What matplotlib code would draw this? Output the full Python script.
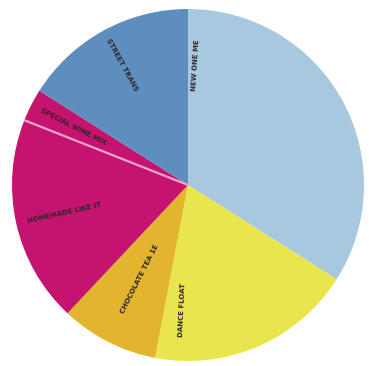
import numpy as np
import matplotlib
matplotlib.use('Agg')
from matplotlib import pyplot as plt

# slices, clockwise from 12 o'clock
# NOTE: the label text in the reference is too blurry to read; these strings are
# placeholders of similar length, not the real labels
labels = ['NEW ONE ME', 'DANCE FLOAT', 'CHOCOLATE TEA 1E', 'HOMEMADE LIKE IT', 'SPECIAL WINE MIX', 'STREET TRANS']
values = [34, 19, 9, 19, 3, 16]
colors = ['#a8c8df', '#e8e64c', '#e3b52e', '#c4146f', '#c4146f', '#5d8ebd']
# where along each wedge the label sits (0 = clockwise start, 1 = end)
label_pos = [0.03, 0.88, 0.5, 0.5, 0.5, 0.5]
label_r = [0.68, 0.71, 0.6, 0.72, 0.73, 0.78]

fig = plt.figure(figsize=(3.69, 3.66), dpi=100)
ax = fig.add_axes([(188 - 176) / 369, (366 - 185 - 176) / 366, 352 / 369, 352 / 366])
wedges, _ = ax.pie(values, colors=colors, startangle=90, counterclock=False, radius=1,
                   wedgeprops=dict(linewidth=0))
ax.set_xlim(-1, 1)
ax.set_ylim(-1, 1)
ax.axis('off')

# pale line between the two magenta slices
w = wedges[3]
a = np.deg2rad(w.theta1)
ax.plot([0, np.cos(a)], [0, np.sin(a)], color='#f2a6cc', lw=1.6, solid_capstyle='butt')

for w, lab, f, r in zip(wedges, labels, label_pos, label_r):
    # clockwise: theta2 is the start
    ang = w.theta2 - f * (w.theta2 - w.theta1)
    rad = np.deg2rad(ang)
    rot = (ang + 90) % 180 - 90
    ax.text(r * np.cos(rad), r * np.sin(rad), lab, rotation=rot, rotation_mode='anchor',
            ha='center', va='center', fontsize=5, fontweight='bold', color='#2e2628')

fig.savefig('out.png', dpi=100)
